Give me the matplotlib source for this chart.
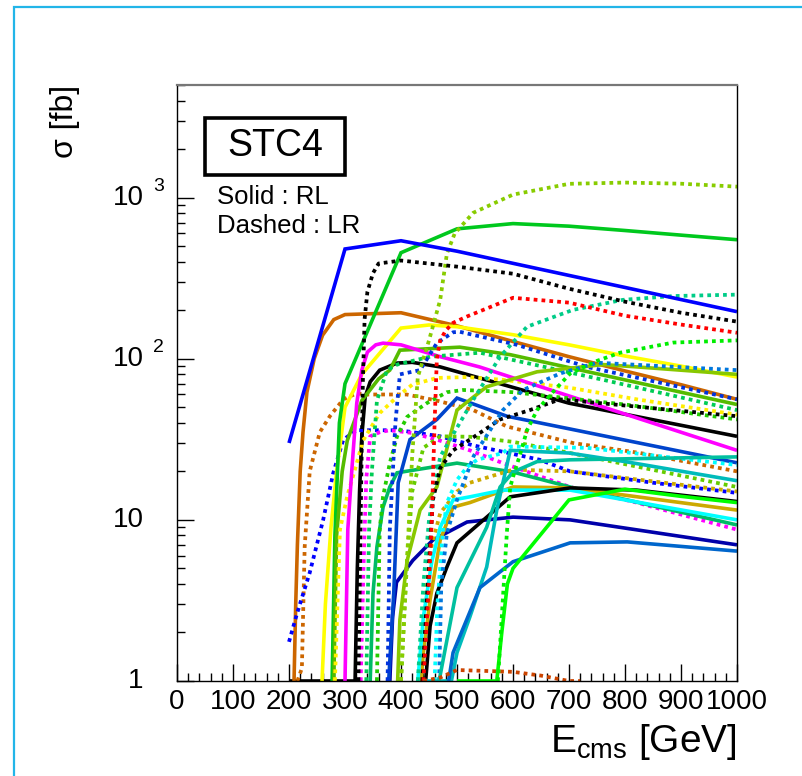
import numpy as np
import matplotlib
matplotlib.use("Agg")
import matplotlib.pyplot as plt
from matplotlib.patches import Rectangle
from matplotlib.ticker import MultipleLocator, LogLocator, NullFormatter, FixedLocator
import matplotlib.transforms as mtransforms

plt.rcParams['font.family'] = ['Liberation Sans', 'DejaVu Sans']
plt.rcParams['mathtext.fontset'] = 'custom'
plt.rcParams['mathtext.rm'] = 'Liberation Sans'
plt.rcParams['mathtext.it'] = 'Liberation Sans'

# ---- cross sections [fb] vs. centre-of-mass energy [GeV] ----
# solid = RL polarisation, dotted = LR polarisation
e_blue_rl = [200, 300, 400, 500, 600, 700, 800, 900, 1000]
s_blue_rl = [30, 480, 540, 465, 391, 329, 277, 233, 196]

e_green_rl = [277, 282, 290, 300, 400, 500, 600, 700, 800, 900, 1000]
s_green_rl = [1, 8, 40, 70, 455, 640, 690, 665, 625, 585, 548]

e_black_lr = [324, 328, 330, 332, 335, 340, 350, 360, 400, 500, 600, 700, 800, 900, 1000]
s_black_lr = [1, 10, 30, 74, 176, 260, 340, 390, 407, 373, 337, 272, 226, 193, 170]

e_orange_rl = [209, 212, 215, 220, 225, 232, 245, 260, 280, 300, 400, 500, 600, 700, 800, 900, 1000]
s_orange_rl = [1, 3, 7, 20, 35, 62, 100, 140, 175, 188, 193, 160, 128, 103, 84, 69, 56]

e_yellow_rl = [259, 265, 275, 285, 300, 330, 400, 450, 500, 600, 700, 800, 900, 1000]
s_yellow_rl = [1, 3, 9, 20, 50, 80, 155, 162, 158, 141, 122, 104, 90, 77]

e_magenta_rl = [300, 305, 312, 321, 330, 340, 355, 368, 400, 470, 540, 1000]
s_magenta_rl = [1, 8.7, 20, 53, 85, 110, 122, 125, 122, 103, 89, 27]

e_olive_rl = [280, 285, 295, 304, 330, 360, 380, 398, 505, 595, 1000]
s_olive_rl = [1, 8, 20, 31, 55, 75, 85, 113, 118, 106, 52]

e_black_rl = [200, 318, 322, 326, 330, 336, 345, 362, 393, 420, 470, 700, 1000]
s_black_rl = [0, 1, 5, 15, 33, 58, 72, 85, 94, 95, 89, 53, 33]

e_red_lr = [440, 450, 455, 460, 464, 470, 480, 493, 518, 600, 700, 800, 900, 1000]
s_red_lr = [1, 4, 10, 40, 100, 130, 150, 167, 183, 239, 223, 185, 163, 145]

e_ygreen_lr = [400, 410, 420, 430, 450, 470, 482, 496, 529, 600, 700, 800, 900, 1000]
s_ygreen_lr = [1, 5, 25, 77, 130, 232, 450, 600, 805, 1044, 1218, 1240, 1220, 1170]

e_teal_lr = [430, 440, 450, 470, 529, 577, 625, 707, 796, 886, 1000]
s_teal_lr = [1, 4, 10, 24.7, 55.6, 103, 158, 201, 232, 245, 250]

e_lime_lr = [573, 580, 589, 595, 603, 612, 625, 643, 671, 702, 750, 791, 886, 1000]
s_lime_lr = [1, 2.5, 8.3, 16, 20, 25, 36, 48, 62, 81, 97, 109, 126, 130]

e_lime_rl = [500, 571, 580, 590, 600, 700, 800, 900, 1000]
s_lime_rl = [0, 1, 2, 4, 5, 13.3, 15.5, 14, 12.8]

e_rust_lr = [440, 470, 500, 600, 650, 700, 720]
s_rust_lr = [0.9, 1.05, 1.17, 1.14, 1.08, 1.0, 0.97]

e_brown_lr = [215, 223, 228, 237, 255, 273, 297, 321, 340, 410, 464, 529, 589, 707, 827, 1000]
s_brown_lr = [1, 1.2, 6.8, 20, 35, 44, 56, 61, 60, 60, 55, 48, 38, 30, 26, 20]

e_blue_lr = [200, 214, 237, 261, 279, 297, 321, 398, 470, 529, 648, 702, 850, 1000]
s_blue_lr = [1.75, 2.6, 4.7, 10, 19.5, 31.5, 36, 36, 33, 29, 23.6, 20, 17, 14.7]

e_royal_lr = [376, 380, 390, 398, 434, 464, 493, 505, 607, 732, 1000]
s_royal_lr = [1, 8.7, 40, 80, 85, 125, 146, 147, 122, 89, 56]

e_sea_lr = [338, 343, 348, 357, 375, 393, 452, 541, 761, 1000]
s_sea_lr = [1, 8.7, 20, 55, 85, 92, 103, 109, 74, 48]

e_black2_lr = [438, 446, 457, 470, 493, 523, 577, 630, 684, 1000]
s_black2_lr = [1, 3.2, 13.3, 21, 27, 31.5, 42, 48, 56, 44]

e_yellow_lr = [282, 291, 304, 321, 332, 362, 393, 420, 464, 518, 582, 702, 821, 1000]
s_yellow_lr = [1, 8.7, 14, 22.5, 31, 46, 58, 69, 76, 77, 74, 66, 56, 45]

e_ygreen_rl = [394, 398, 411, 434, 464, 500, 523, 553, 643, 761, 821, 1000]
s_ygreen_rl = [1, 2.4, 5.6, 11.5, 16, 48, 55.6, 67, 83, 92, 89, 80]

e_ltblue_lr = [468, 472, 482, 500, 530, 582, 618, 684, 750, 1000]
s_ltblue_lr = [1, 4, 8.3, 13.3, 25, 48, 64, 81, 94.5, 85]

e_teal_rl = [440, 490, 500, 523, 553, 571, 595, 700, 800, 1000]
s_teal_rl = [0, 1, 1.5, 2.5, 5.1, 11.5, 27, 26, 23, 17.5]

e_teal2_rl = [468, 500, 553, 577, 600, 643, 702, 1000]
s_teal2_rl = [1, 3.8, 9, 16, 19.8, 23, 23.6, 24.6]

e_sea_rl = [345, 350, 357, 368, 380, 393, 500, 600, 702, 1000]
s_sea_rl = [1, 3.5, 6.8, 12, 16, 19.6, 22.5, 19.8, 16, 9.3]

e_cyan_rl = [430, 440, 455, 470, 493, 523, 582, 702, 1000]
s_cyan_rl = [1, 2.5, 5.5, 9, 13.3, 13.9, 15.3, 15.3, 10]

e_gold_rl = [436, 440, 452, 470, 493, 523, 600, 702, 1000]
s_gold_rl = [1, 1.5, 3.2, 7.5, 12, 12.8, 16, 15.8, 11.5]

e_black2_rl = [444, 452, 464, 482, 500, 595, 702, 821, 1000]
s_black2_rl = [1, 2.2, 3.5, 5.1, 7.2, 13.9, 15.8, 15.3, 13]

e_navy_rl = [380, 385, 392, 421, 457, 518, 600, 702, 1000]
s_navy_rl = [1, 2.5, 4.1, 5.6, 7.5, 9.7, 10.4, 10, 7.0]

e_steel_rl = [485, 493, 541, 600, 702, 804, 1000]
s_steel_rl = [1, 1.5, 3.8, 5.5, 7.2, 7.3, 6.4]

e_royal_rl = [378, 387, 395, 416, 464, 500, 589, 1000]
s_royal_rl = [1, 3.5, 17, 31.5, 42, 57, 44, 22.6]

e_magenta_lr = [328, 333, 338, 345, 362, 380, 421, 470, 523, 582, 702, 821, 1000]
s_magenta_lr = [1, 5, 18, 33, 35, 36, 34.6, 31, 27, 22.5, 16, 12.8, 8.7]

e_cyan_lr = [460, 465, 475, 482, 500, 518, 536, 582, 595, 732, 1000]
s_cyan_lr = [1, 3, 8.7, 12.8, 17.7, 21.3, 23.6, 26, 28.5, 28, 21.9]

e_green_lr = [357, 362, 368, 380, 393, 411, 446, 482, 511, 600, 800, 1000]
s_green_lr = [1, 8.7, 14, 22.5, 33, 43.6, 53, 62, 64, 62, 52, 42]

e_ltgreen_lr = [400, 410, 420, 440, 470, 523, 600, 702, 1000]
s_ltgreen_lr = [1, 5, 15, 28, 33, 32.8, 30.5, 26, 16]

e_gold_lr = [432, 440, 455, 470, 500, 523, 600, 702, 1000]
s_gold_lr = [1, 2.5, 7, 11, 15, 17, 20.5, 20, 15]

curves = [
    (e_black_rl, s_black_rl, '#000000', 'RL'),
    (e_orange_rl, s_orange_rl, '#CC6600', 'RL'),
    (e_brown_lr, s_brown_lr, '#CC6600', 'LR'),
    (e_blue_lr, s_blue_lr, '#0000FF', 'LR'),
    (e_yellow_rl, s_yellow_rl, '#FFFF00', 'RL'),
    (e_green_rl, s_green_rl, '#00C81E', 'RL'),
    (e_olive_rl, s_olive_rl, '#55BB00', 'RL'),
    (e_yellow_lr, s_yellow_lr, '#FFEE00', 'LR'),
    (e_magenta_rl, s_magenta_rl, '#FF00FF', 'RL'),
    (e_magenta_lr, s_magenta_lr, '#FF00FF', 'LR'),
    (e_sea_lr, s_sea_lr, '#00CC55', 'LR'),
    (e_sea_rl, s_sea_rl, '#00BB66', 'RL'),
    (e_green_lr, s_green_lr, '#22CC00', 'LR'),
    (e_navy_rl, s_navy_rl, '#0000AA', 'RL'),
    (e_royal_rl, s_royal_rl, '#0044CC', 'RL'),
    (e_royal_lr, s_royal_lr, '#0033DD', 'LR'),
    (e_ygreen_rl, s_ygreen_rl, '#88C800', 'RL'),
    (e_ltgreen_lr, s_ltgreen_lr, '#66CC00', 'LR'),
    (e_ygreen_lr, s_ygreen_lr, '#88CC00', 'LR'),
    (e_gold_lr, s_gold_lr, '#CCAA00', 'LR'),
    (e_gold_rl, s_gold_rl, '#CCAA00', 'RL'),
    (e_cyan_rl, s_cyan_rl, '#00FFFF', 'RL'),
    (e_teal_lr, s_teal_lr, '#00CC88', 'LR'),
    (e_black2_lr, s_black2_lr, '#000000', 'LR'),
    (e_black2_rl, s_black2_rl, '#000000', 'RL'),
    (e_red_lr, s_red_lr, '#FF0000', 'LR'),
    (e_cyan_lr, s_cyan_lr, '#00FFFF', 'LR'),
    (e_ltblue_lr, s_ltblue_lr, '#0077DD', 'LR'),
    (e_teal_rl, s_teal_rl, '#00BBBB', 'RL'),
    (e_teal2_rl, s_teal2_rl, '#00C0A0', 'RL'),
    (e_steel_rl, s_steel_rl, '#0066CC', 'RL'),
    (e_rust_lr, s_rust_lr, '#CC4400', 'LR'),
    (e_lime_rl, s_lime_rl, '#00FF00', 'RL'),
    (e_lime_lr, s_lime_lr, '#00EE00', 'LR'),
    (e_blue_rl, s_blue_rl, '#0000FF', 'RL'),
    (e_black_lr, s_black_lr, '#000000', 'LR'),
]

fig = plt.figure(figsize=(8.02, 7.76), dpi=100)
ax = fig.add_axes([177 / 802, 95 / 776, 560 / 802, 596 / 776])

ymin, ymax = 1.0, 5000.0
for e, s, col, pol in curves:
    # points below the frame are drawn on the lower edge
    s_draw = np.clip(np.asarray(s, dtype=float), ymin, None)
    if pol == 'RL':
        ax.plot(e, s_draw, color=col, lw=2.6, solid_joinstyle='miter',
                solid_capstyle='butt')
    else:
        ax.plot(e, s_draw, color=col, lw=2.7, linestyle=(0, (1, 1.1)),
                dash_capstyle='butt')

ax.set_yscale('log')
ax.set_xlim(0, 1000)
ax.set_ylim(ymin, ymax)

# frame
for side in ['left', 'bottom', 'right']:
    ax.spines[side].set_color('black')
    ax.spines[side].set_linewidth(1.0)
ax.spines['top'].set_color('#777777')
ax.spines['top'].set_linewidth(1.6)

# ticks
ax.xaxis.set_major_locator(MultipleLocator(100))
ax.xaxis.set_minor_locator(MultipleLocator(20))
ax.yaxis.set_major_locator(FixedLocator([1, 10, 100, 1000]))
ax.yaxis.set_minor_locator(LogLocator(base=10, subs=np.arange(2, 10)))
ax.yaxis.set_major_formatter(NullFormatter())
ax.yaxis.set_minor_formatter(NullFormatter())
ax.tick_params(which='major', direction='in', length=12, width=1,
               top=False, right=False, labelsize=20, pad=6)
ax.tick_params(which='minor', direction='in', length=6, width=1,
               top=False, right=False)
ax.set_xticks(range(0, 1001, 100))
ax.set_xticklabels([str(v) for v in range(0, 1001, 100)])

# y tick labels in ROOT style: "10" with a detached exponent
btr = mtransforms.blended_transform_factory(ax.transAxes, ax.transData)
off = mtransforms.ScaledTranslation(0, 11 / 100, fig.dpi_scale_trans)
ax.text(-0.060, 1, '1', transform=btr, ha='right', va='center', fontsize=20)
ax.text(-0.060, 10, '10', transform=btr, ha='right', va='center', fontsize=20)
for val, ex in [(100, '2'), (1000, '3')]:
    ax.text(-0.060, val, '10', transform=btr, ha='right', va='center',
            fontsize=20)
    ax.text(-0.043, val, ex, transform=btr + off, ha='left', va='center',
            fontsize=14)

# axis titles
ax.text(1.0, -0.119, r'E$_{\mathrm{cms}}$ [GeV]', transform=ax.transAxes,
        ha='right', va='baseline', fontsize=28)
ax.text(-0.20, 1.0, 'σ [fb]', transform=ax.transAxes, rotation=90,
        ha='center', va='top', fontsize=23)

# label box
ax.add_patch(Rectangle((0.05, 0.849), 0.25, 0.0956, transform=ax.transAxes,
                       fill=False, edgecolor='black', lw=2.6, zorder=5))
ax.text(0.175, 0.8975, 'STC4', transform=ax.transAxes, ha='center',
        va='center', fontsize=27, zorder=6)
ax.text(0.0714, 0.800, 'Solid : RL', transform=ax.transAxes, ha='left',
        va='baseline', fontsize=18.5)
ax.text(0.0714, 0.7517, 'Dashed : LR', transform=ax.transAxes, ha='left',
        va='baseline', fontsize=18.5)

# outer canvas border
fig.patches.append(Rectangle((14 / 802, -0.05), 1.2, 1 - 7 / 776 + 0.05,
                             transform=fig.transFigure, fill=False,
                             edgecolor='#22B5E8', lw=1.6))

fig.savefig('out.png', dpi=100)
